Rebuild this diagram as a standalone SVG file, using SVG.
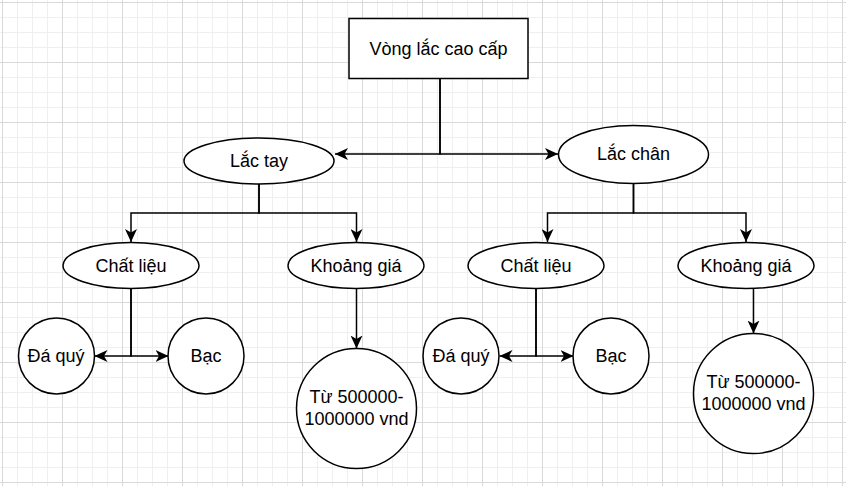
<svg xmlns="http://www.w3.org/2000/svg" width="846" height="486" viewBox="0 0 846 486">
<style>
.n{fill:#fff;stroke:#000;stroke-width:1.5}
.t{font-family:"Liberation Sans",Arial,sans-serif;font-size:18px;fill:#000;text-anchor:middle}
.c{fill:none;stroke:#000;stroke-width:1.5}
.a{marker-end:url(#arr)}
</style>
<defs>
<pattern id="grid" patternUnits="userSpaceOnUse" x="2" y="2" width="60" height="60">
<path d="M15.5,0V60M30.5,0V60M45.5,0V60M0,15.5H60M0,30.5H60M0,45.5H60" stroke="#efefef" stroke-width="1" fill="none"/>
<path d="M0.5,0V60M0,0.5H60" stroke="#d9d9d9" stroke-width="1" fill="none"/>
</pattern>
<marker id="arr" viewBox="0 0 13 12" refX="13" refY="6" markerWidth="13" markerHeight="12" markerUnits="userSpaceOnUse" orient="auto">
<path d="M13,6L0,0L3.5,6L0,12Z" fill="#000"/>
</marker>
</defs>
<rect width="846" height="486" fill="#fff"/>
<rect width="846" height="486" fill="url(#grid)"/>
<g id="connectors">
<path class="c a" d="M440,78V154H335"/>
<path class="c a" d="M440,78V154H558"/>
<path class="c a" d="M259,184V213H131V242"/>
<path class="c a" d="M259,184V213H356.5V242"/>
<path class="c a" d="M633.5,184V213H547.5V242"/>
<path class="c a" d="M633.5,184V213H746V242"/>
<path class="c a" d="M131,288V356H94.5"/>
<path class="c a" d="M131,288V356H168.5"/>
<path class="c a" d="M356.5,288V348.5"/>
<path class="c a" d="M536,288V356H499.5"/>
<path class="c a" d="M536,288V356H573.5"/>
<path class="c a" d="M753.5,288V333.5"/>
</g>
<g id="root"><rect class="n" x="349" y="18.5" width="179" height="60"/><text class="t" x="438.5" y="54.5">Vòng lắc cao cấp</text></g>
<g id="lac-tay"><ellipse class="n" cx="259" cy="161" rx="75" ry="23"/><text class="t" x="259" y="167">Lắc tay</text></g>
<g id="lac-chan"><ellipse class="n" cx="633.5" cy="154.5" rx="75" ry="29"/><text class="t" x="633.5" y="160">Lắc chân</text></g>
<g id="chat-lieu-1"><ellipse class="n" cx="131" cy="265.5" rx="68" ry="23"/><text class="t" x="131" y="271.5">Chất liệu</text></g>
<g id="khoang-gia-1"><ellipse class="n" cx="356" cy="265.5" rx="68" ry="23"/><text class="t" x="356" y="271.5">Khoảng giá</text></g>
<g id="chat-lieu-2"><ellipse class="n" cx="536" cy="265.5" rx="68" ry="23"/><text class="t" x="536" y="271.5">Chất liệu</text></g>
<g id="khoang-gia-2"><ellipse class="n" cx="746" cy="265.5" rx="68" ry="23"/><text class="t" x="746" y="271.5">Khoảng giá</text></g>
<g id="da-quy-1"><circle class="n" cx="56.5" cy="356" r="38"/><text class="t" x="56" y="362">Đá quý</text></g>
<g id="bac-1"><circle class="n" cx="206" cy="356" r="38"/><text class="t" x="206" y="362">Bạc</text></g>
<g id="gia-1"><circle class="n" cx="356.5" cy="408.5" r="60"/><text class="t" x="356.5" y="402.5">Từ 500000-</text><text class="t" x="356.5" y="424.5">1000000 vnd</text></g>
<g id="da-quy-2"><circle class="n" cx="461" cy="356" r="38"/><text class="t" x="461" y="362">Đá quý</text></g>
<g id="bac-2"><circle class="n" cx="611" cy="356" r="38"/><text class="t" x="611" y="362">Bạc</text></g>
<g id="gia-2"><circle class="n" cx="753.5" cy="393.5" r="60"/><text class="t" x="753.5" y="387.5">Từ 500000-</text><text class="t" x="753.5" y="409.5">1000000 vnd</text></g>
</svg>
